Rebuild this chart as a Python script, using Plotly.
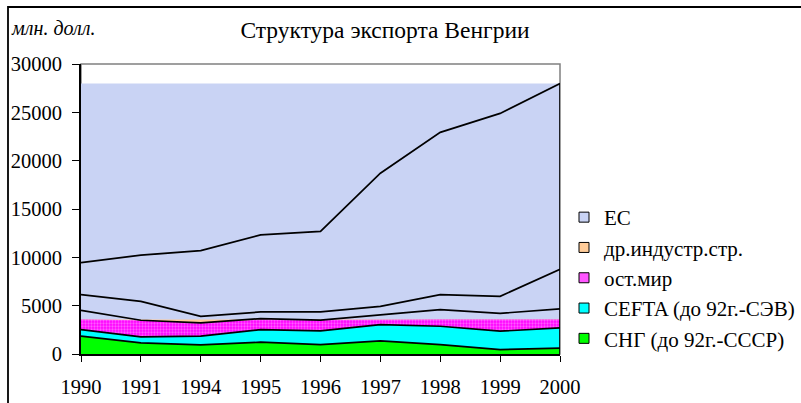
import numpy as np
import plotly.graph_objects as go

# ---------------- data ----------------
years = ["1990", "1991", "1994", "1995", "1996", "1997", "1998", "1999", "2000"]
sng = [1840, 1150, 950, 1220, 960, 1360, 980, 460, 600]          # СНГ (до 92г.-СССР)
cefta = [690, 620, 890, 1310, 1430, 1680, 1890, 1900, 2100]       # CEFTA (до 92г.-СЭВ)
ost_mir = [1990, 1720, 1380, 1130, 1120, 1040, 1720, 1850, 1960]  # ост.мир
dr_industr = [1620, 1960, 680, 690, 840, 850, 1550, 1760, 4110]   # др.индустр.стр.
es = [3320, 4770, 6800, 7980, 8330, 13770, 16790, 18920, 19220]   # ЕС
ost_fill_cap = 3560          # level up to which the patterned fill is painted
y_ticks = [0, 5000, 10000, 15000, 20000, 25000, 30000]
names = ["ЕС", "др.индустр.стр.", "ост.мир", "CEFTA (до 92г.-СЭВ)", "СНГ (до 92г.-СССР)"]

# ---------------- derived ----------------
x = list(range(len(years)))
c1 = np.array(sng, dtype=float)
c2 = c1 + np.array(cefta)
c3 = c2 + np.array(ost_mir)
c4 = c3 + np.array(dr_industr)
c5 = c4 + np.array(es)
n = len(years)
top = float(c5.max())

SERIF = "Liberation Serif"
C_ES = "#c9d3f4"
C_DR = "#ffcc99"
C_OST = "#ff00ff"
C_CEFTA = "#00ffff"
C_SNG = "#00ff00"

fig = go.Figure()

def rect_trace(level, color):
    return go.Scatter(x=[0, n - 1, n - 1, 0, 0], y=[0, 0, level, level, 0],
                      mode="lines", fill="toself", fillcolor=color,
                      line=dict(width=0), showlegend=False, hoverinfo="skip")

fig.add_trace(rect_trace(top, C_ES))
fig.add_trace(rect_trace(ost_fill_cap, C_DR))
fig.add_trace(go.Scatter(x=x, y=np.minimum(c3, ost_fill_cap), mode="lines", fill="tozeroy",
                         fillcolor=C_OST,
                         fillpattern=dict(shape=".", fgcolor="#ffb8ff", bgcolor=C_OST, size=3, solidity=0.45),
                         line=dict(width=0), showlegend=False, hoverinfo="skip"))
fig.add_trace(go.Scatter(x=x, y=c2, mode="lines", fill="tozeroy", fillcolor=C_CEFTA,
                         line=dict(width=0), showlegend=False, hoverinfo="skip"))
fig.add_trace(go.Scatter(x=x, y=c1, mode="lines", fill="tozeroy", fillcolor=C_SNG,
                         line=dict(width=0), showlegend=False, hoverinfo="skip"))

for s in [c1, c2, c3, c4, c5]:
    fig.add_trace(go.Scatter(x=x, y=s, mode="lines", line=dict(color="black", width=1.7),
                             showlegend=False, hoverinfo="skip"))
fig.add_trace(go.Scatter(x=[n - 1, n - 1], y=[0, c5[-1]], mode="lines",
                         line=dict(color="black", width=1.7), showlegend=False, hoverinfo="skip"))

legend_colors = [C_ES, C_DR, "#ff55ff", C_CEFTA, C_SNG]
for i, (nm, col) in enumerate(zip(names, legend_colors)):
    fig.add_trace(go.Scatter(x=[None], y=[None], mode="markers", name=nm, legendgroup=f"g{i}",
                             marker=dict(symbol="square", size=10, color=col,
                                         line=dict(color="black", width=1))))

# ---------------- layout ----------------
L, R, T, B = 81, 241, 64, 49
W, H = 801, 403
pw, ph = W - L - R, H - T - B

def px_x(p):
    return (p - L) / pw

def px_y(p):
    return (H - B - p) / ph

fig.update_layout(
    width=W, height=H,
    margin=dict(l=L, r=R, t=T, b=B, autoexpand=False),
    paper_bgcolor="white", plot_bgcolor="white",
    font=dict(family=SERIF, color="black", size=20),
    title=dict(text="Структура экспорта Венгрии", x=385 / W, xanchor="center",
               xref="container", y=1 - 30 / H, yanchor="middle", yref="container",
               font=dict(family=SERIF, size=23.5, color="black")),
    showlegend=True,
    legend=dict(xref="paper", yref="paper", x=px_x(564), xanchor="left",
                y=px_y(197), yanchor="top", bgcolor="rgba(0,0,0,0)", borderwidth=0,
                font=dict(family=SERIF, size=21, color="black"), tracegroupgap=0),
    xaxis=dict(range=[0, n - 1], tickmode="array", tickvals=x, ticktext=years,
               ticks="outside", ticklen=6, tickwidth=1.2, tickcolor="black",
               showline=True, linecolor="black", linewidth=1.6, automargin=False,
               showgrid=False, zeroline=False, ticklabelstandoff=8,
               tickfont=dict(family=SERIF, size=20.5, color="black")),
    yaxis=dict(range=[0, 30000], tickmode="array", tickvals=y_ticks, tickformat="d",
               ticks="outside", ticklen=7, tickwidth=1.2, tickcolor="black",
               showline=True, linecolor="black", linewidth=1.6, automargin=False,
               showgrid=False, zeroline=False, ticklabelstandoff=6,
               tickfont=dict(family=SERIF, size=20.5, color="black")),
    shapes=[
        dict(type="rect", xref="paper", yref="paper", x0=0, x1=1, y0=0, y1=1,
             line=dict(color="#808080", width=1.5), layer="below"),
        dict(type="rect", xref="paper", yref="paper", x0=px_x(8), x1=px_x(805),
             y0=px_y(406), y1=px_y(7), line=dict(color="black", width=1.8)),
    ],
    annotations=[
        dict(text="<i>млн. долл.</i>", xref="paper", yref="paper", x=px_x(9), y=px_y(28),
             xanchor="left", yanchor="middle", showarrow=False,
             font=dict(family=SERIF, size=20, color="black")),
    ],
)

fig.write_html("out.html", config={"responsive": False, "displayModeBar": False},
               post_script="document.body.style.margin='0';document.body.style.overflow='hidden';")
